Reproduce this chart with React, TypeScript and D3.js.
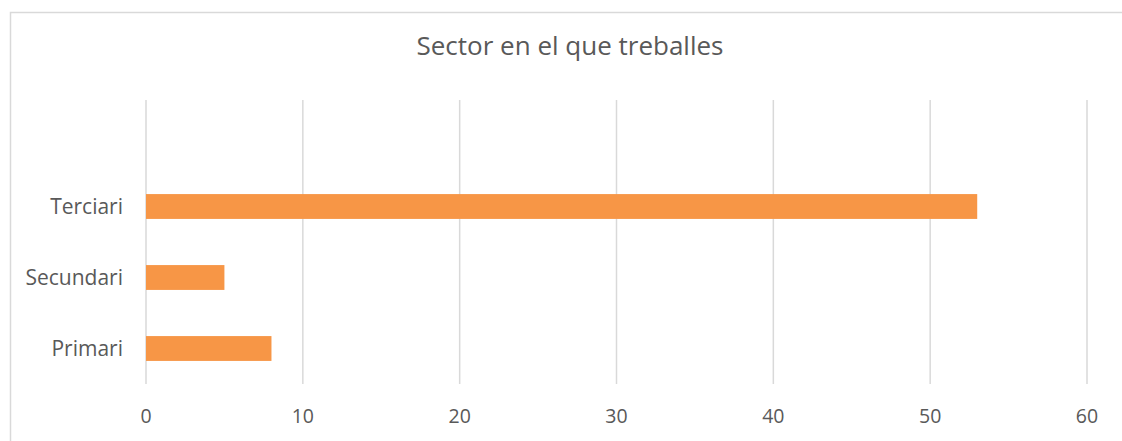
import React from "react";
import * as d3 from "d3";

const categories = ["", "Terciari", "Secundari", "Primari"];
const values: (number | null)[] = [null, 53, 5, 8];
const xTicks = [0, 10, 20, 30, 40, 50, 60];
const title = "Sector en el que treballes";

export default function App() {
  const W = 1122, H = 441;
  const x = d3.scaleLinear().domain([0, 60]).range([146, 1087]);
  const y = d3.scaleBand<string>().domain(categories.map((c, i) => c + "#" + i)).range([100, 384]).paddingInner(0.65).paddingOuter(0.325);
  const font = "'Open Sans', sans-serif";
  return (
    <svg width={W} height={H} style={{ position: "absolute", left: 0, top: 0, background: "#fff" }}>
      <rect x={10.5} y={12.5} width={1130} height={440} fill="#fff" stroke="#d9d9d9" strokeWidth={1.5} />
      <text x={570} y={55} textAnchor="middle" fontFamily={font} fontSize={26} fill="#595959">{title}</text>
      {xTicks.map(t => (
        <g key={t}>
          <line x1={x(t)} x2={x(t)} y1={100} y2={384} stroke="#d9d9d9" strokeWidth={1.5} />
          <text x={x(t)} y={423} textAnchor="middle" fontFamily={font} fontSize={19.5} fill="#595959">{t}</text>
        </g>
      ))}
      {categories.map((c, i) => {
        const key = c + "#" + i;
        const v = values[i];
        const yy = y(key)!;
        return (
          <g key={key}>
            {v != null && <rect x={x(0)} y={yy} width={x(v) - x(0)} height={y.bandwidth()} fill="#f79646" />}
            {c && <text x={123} y={yy + y.bandwidth() / 2} dy="0.36em" textAnchor="end" fontFamily={font} fontSize={21} fill="#595959">{c}</text>}
          </g>
        );
      })}
    </svg>
  );
}
